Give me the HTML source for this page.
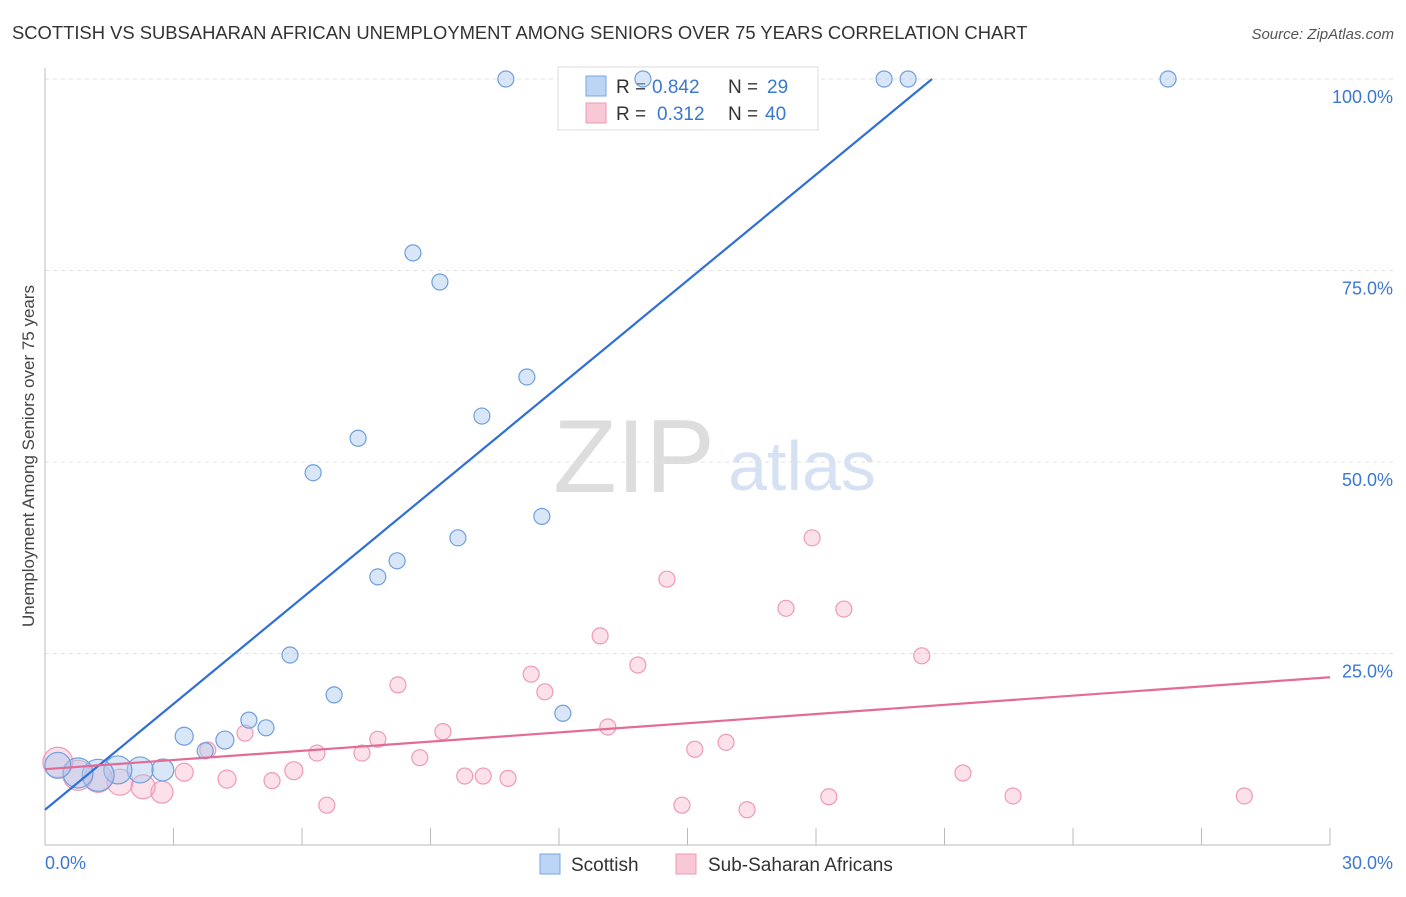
<!DOCTYPE html>
<html><head><meta charset="utf-8"><style>
body{margin:0;background:#fff;font-family:"Liberation Sans",sans-serif}
svg text{font-family:"Liberation Sans",sans-serif}
</style></head><body>
<svg id="c" width="1406" height="892" xmlns="http://www.w3.org/2000/svg">
<text x="12" y="39" font-size="18.4" fill="#333">SCOTTISH VS SUBSAHARAN AFRICAN UNEMPLOYMENT AMONG SENIORS OVER 75 YEARS CORRELATION CHART</text>
<text x="1394" y="39" font-size="15" fill="#555" text-anchor="end" font-style="italic">Source: ZipAtlas.com</text>
<text x="634" y="492" font-size="104" fill="#ddd" font-family="Liberation Serif" text-anchor="middle">ZIP</text>
<text x="802" y="490" font-size="70" fill="#d6e2f3" text-anchor="middle">atlas</text>
<g id="grid"></g><g id="axes"></g>
<g>
<rect x="558" y="67" width="260" height="63" fill="#fff" stroke="#ddd"/>
<rect x="586" y="76" width="20" height="20" fill="#bcd4f5" stroke="#7aa6e0"/>
<rect x="586" y="103" width="20" height="20" fill="#f9c8d7" stroke="#ee9ab5"/>
<text x="616" y="93" font-size="19" fill="#333">R =</text>
<text x="652" y="93" font-size="19" fill="#3b78d0">0.842</text>
<text x="728" y="93" font-size="19" fill="#333">N =</text>
<text x="767" y="93" font-size="19" fill="#3b78d0">29</text>
<text x="616" y="120" font-size="19" fill="#333">R =</text>
<text x="657" y="120" font-size="19" fill="#3b78d0">0.312</text>
<text x="728" y="120" font-size="19" fill="#333">N =</text>
<text x="765" y="120" font-size="19" fill="#3b78d0">40</text>
</g>
<g id="pts"></g><g id="lines"></g>
<text transform="translate(34,456) rotate(-90)" font-size="17" fill="#444" text-anchor="middle">Unemployment Among Seniors over 75 years</text>
<text x="45" y="869" font-size="18" fill="#3b78d0">0.0%</text>
<text x="1393" y="869" font-size="18" fill="#3b78d0" text-anchor="end">30.0%</text>
<g>
<rect x="540" y="854" width="20" height="20" fill="#bcd4f5" stroke="#7aa6e0"/>
<text x="571" y="871" font-size="19" fill="#333">Scottish</text>
<rect x="676" y="854" width="20" height="20" fill="#f9c8d7" stroke="#ee9ab5"/>
<text x="708" y="871" font-size="19" fill="#333">Sub-Saharan Africans</text>
</g>
</svg>
<script>
const scotX=[10.76,13.96,19.59,20.15,26.22,8.59,9.22,11.25,10.2,7.31,6.26,11.6,9.64,8.22,7.77,5.72,6.75,12.09,4.76,5.16,3.25,4.2,3.74,2.75,2.22,1.7,1.24,0.77,0.3];
const scotY=[100,100,100,100,100,77.3,73.5,61.1,56.0,53.1,48.6,42.9,40.1,37.1,35.0,24.8,19.6,17.2,16.3,15.3,14.2,13.7,12.3,9.8,9.8,9.8,9.1,9.4,10.4];
const scotR=[8,8,8,8,8,8,8,8,8,8,8,8,8,8,8,8,8,8,8,8,9,9,8,11,13,14,16,15,13];
const ssaX=[17.91,14.52,17.3,18.65,12.96,13.84,20.47,8.24,11.35,11.67,13.14,9.29,7.77,4.67,3.8,6.35,7.4,8.75,15.9,15.17,5.81,3.25,4.25,5.3,9.8,10.23,10.81,21.43,2.73,2.29,1.75,1.24,0.77,0.3,6.58,14.87,16.39,18.3,22.6,28.0];
const ssaY=[40.1,34.7,30.9,30.8,27.3,23.5,24.7,20.9,22.3,20.0,15.4,14.8,13.8,14.6,12.4,12.0,12.0,11.4,13.4,12.5,9.7,9.5,8.6,8.4,9.0,9.0,8.7,9.4,6.9,7.6,8.2,8.7,9.1,10.8,5.2,5.2,4.6,6.3,6.4,6.4];
const ssaR=[8,8,8,8,8,8,8,8,8,8,8,8,8,8,8,8,8,8,8,8,9,9,9,8,8,8,8,8,11,12,13,14,15,15,8,8,8,8,8,8];
const yTicks=[25,50,75,100];
const yTickLabels=["25.0%","50.0%","75.0%","100.0%"];
const scotLine=[[0,4.6],[20.71,100]];
const ssaLine=[[0,9.9],[30,21.9]];
const NS="http://www.w3.org/2000/svg";
const X=v=>45+v/30*1285, Y=v=>845-v/100*766;
function mk(p,t,a){const e=document.createElementNS(NS,t);for(const k in a)e.setAttribute(k,a[k]);document.getElementById(p).appendChild(e);return e;}
yTicks.forEach((t,i)=>{
 const l=mk('grid','line',{x1:45,x2:1393,y1:Y(t),y2:Y(t),stroke:'#e2e2e2','stroke-dasharray':'4,4'});
 
 
 const tx=mk('grid','text',{x:1393,y:Y(t)+24,'font-size':18,fill:'#3b78d0','text-anchor':'end'});
 tx.textContent=yTickLabels[i];
 
 
});
const ax=mk('axes','path',{d:'M45,68V845H1330',fill:'none',stroke:'#bbb'});


for(let i=0;i<=10;i++){const t=mk('axes','line',{x1:X(i*3),x2:X(i*3),y1:828,y2:845,stroke:'#bbb'});
 
 }
ssaX.forEach((v,i)=>{const c=mk('pts','circle',{cx:X(v),cy:Y(ssaY[i]),r:ssaR[i],fill:'rgba(246,170,195,0.35)',stroke:'#ee9ab5','stroke-width':1.2});
 
 });
scotX.forEach((v,i)=>{const c=mk('pts','circle',{cx:X(v),cy:Y(scotY[i]),r:scotR[i],fill:'rgba(170,200,240,0.45)',stroke:'#6f9fdc','stroke-width':1.2});
 
 });
const l1=mk('lines','line',{x1:X(scotLine[0][0]),y1:Y(scotLine[0][1]),x2:X(scotLine[1][0]),y2:Y(scotLine[1][1]),stroke:'#2f6fd6','stroke-width':2.2});


const l2=mk('lines','line',{x1:X(ssaLine[0][0]),y1:Y(ssaLine[0][1]),x2:X(ssaLine[1][0]),y2:Y(ssaLine[1][1]),stroke:'#e46b94','stroke-width':2.2});


</script>
</body></html>
